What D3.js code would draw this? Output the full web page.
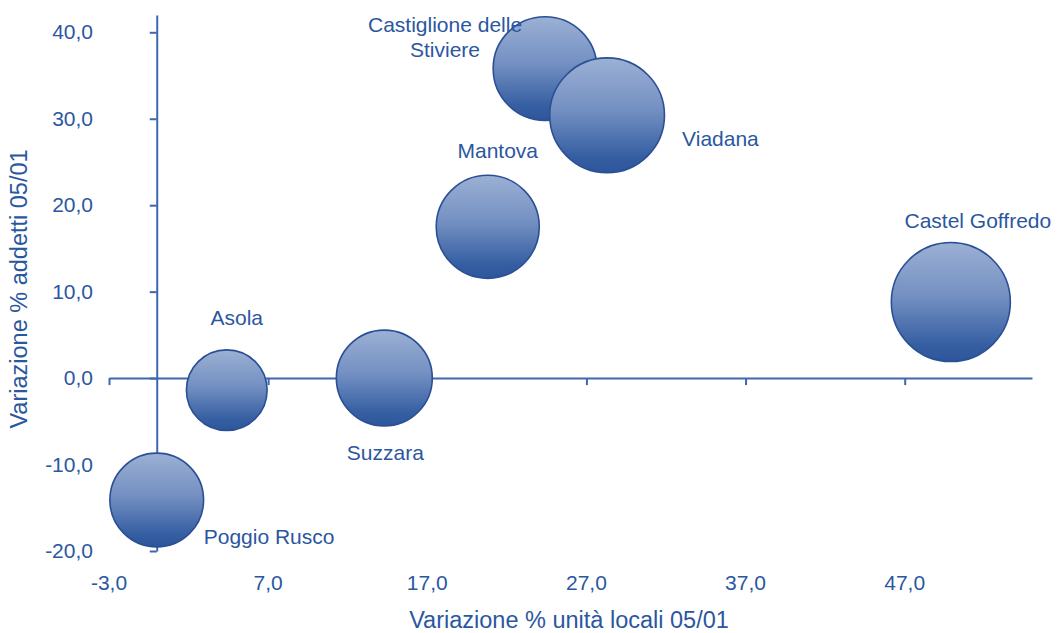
<!DOCTYPE html>
<html>
<head>
<meta charset="utf-8">
<script src="https://cdn.jsdelivr.net/npm/d3@7"></script>
<style>
  body { margin: 0; background: #fff; }
  text { font-family: "Liberation Sans", Arial, sans-serif; fill: #2b57a0; }
</style>
</head>
<body>
<div class="chart"></div>
<script>
// comuni of the province, % changes 2001-2005
const names = ["Poggio Rusco", "Asola", "Suzzara", "Mantova", "Castiglione delle Stiviere", "Viadana", "Castel Goffredo"];
const unitaLocali = [0.0, 4.4, 14.3, 20.8, 24.4, 28.3, 49.9];   // x: variazione % unità locali
const addetti = [-14.1, -1.4, 0.0, 17.5, 35.8, 30.4, 8.8];       // y: variazione % addetti
const bubbleSize = [62, 46, 65, 75, 76, 93, 100];               // relative size
const xTicks = [-3, 7, 17, 27, 37, 47];
const yTicks = [-20, -10, 0, 10, 20, 30, 40];

// label placement relative to the bubble centre [dx, dy, anchor]
const labelPlace = {
  "Poggio Rusco": [47, 44, "start"],
  "Asola": [10, -65, "middle"],
  "Suzzara": [1, 82, "middle"],
  "Mantova": [10, -69, "middle"],
  "Castiglione delle Stiviere": [-100, -37, "middle"],
  "Viadana": [75, 31, "start"],
  "Castel Goffredo": [27, -74, "middle"]
};

const width = 1059, height = 633;
const axisColor = "#3d67b0";

const fmt = d3.formatLocale({ decimal: ",", thousands: ".", grouping: [3], currency: ["", "€"], minus: "-" }).format(".1f");

const x = d3.scaleLinear().domain([-3, 55]).range([109, 1032]);
const y = d3.scaleLinear().domain([-20, 42]).range([551, 15]);
const r = d3.scaleSqrt().domain([0, 100]).range([0, 59.5]);

const svg = d3.select(".chart").append("svg")
  .attr("width", width)
  .attr("height", height);

const defs = svg.append("defs");
const grad = defs.append("linearGradient")
  .attr("id", "bubbleGrad")
  .attr("x1", 0).attr("y1", 0).attr("x2", 0).attr("y2", 1);
grad.append("stop").attr("offset", "0%").attr("stop-color", "#9bb0d4");
grad.append("stop").attr("offset", "45%").attr("stop-color", "#7490c2");
grad.append("stop").attr("offset", "85%").attr("stop-color", "#3760a3");
grad.append("stop").attr("offset", "100%").attr("stop-color", "#2c559b");

// x axis sits on y = 0
const xAxis = svg.append("g")
  .attr("transform", `translate(0,${y(0)})`)
  .call(d3.axisBottom(x).tickValues(xTicks).tickSize(7).tickSizeOuter(0).tickFormat(""));
xAxis.select(".domain").attr("stroke", axisColor).attr("stroke-width", 2);
xAxis.selectAll(".tick line").attr("stroke", axisColor).attr("stroke-width", 2);

// y axis sits on x = 0
const yAxis = svg.append("g")
  .attr("transform", `translate(${x(0)},0)`)
  .call(d3.axisLeft(y).tickValues(yTicks).tickSize(7).tickSizeOuter(0).tickFormat(""));
yAxis.select(".domain").attr("stroke", axisColor).attr("stroke-width", 2);
yAxis.selectAll(".tick line").attr("stroke", axisColor).attr("stroke-width", 2);

// tick labels along the plot edges
svg.append("g")
  .selectAll("text")
  .data(xTicks)
  .join("text")
  .attr("x", (d) => x(d))
  .attr("y", 590)
  .attr("text-anchor", "middle")
  .style("font-size", "21px")
  .text((d) => fmt(d));

svg.append("g")
  .selectAll("text")
  .data(yTicks)
  .join("text")
  .attr("x", 93)
  .attr("y", (d) => y(d) + 7)
  .attr("text-anchor", "end")
  .style("font-size", "21px")
  .text((d) => fmt(d));

// axis titles
svg.append("text")
  .attr("x", 569)
  .attr("y", 628)
  .attr("text-anchor", "middle")
  .style("font-size", "23.5px")
  .text("Variazione % unità locali 05/01");

svg.append("text")
  .attr("transform", `translate(27,289) rotate(-90)`)
  .attr("text-anchor", "middle")
  .style("font-size", "23.5px")
  .text("Variazione % addetti 05/01");

const data = names.map((n, i) => ({ name: n, ux: unitaLocali[i], ad: addetti[i], size: bubbleSize[i] }));

// bubbles
svg.append("g")
  .selectAll("circle")
  .data(data)
  .join("circle")
  .attr("cx", (d) => x(d.ux))
  .attr("cy", (d) => y(d.ad))
  .attr("r", (d) => r(d.size))
  .attr("fill", "url(#bubbleGrad)")
  .attr("stroke", "#2a4f95")
  .attr("stroke-width", 1.6);

// labels
const labels = svg.append("g")
  .selectAll("text")
  .data(data)
  .join("text")
  .attr("x", (d) => x(d.ux) + labelPlace[d.name][0])
  .attr("y", (d) => y(d.ad) + labelPlace[d.name][1])
  .attr("text-anchor", (d) => labelPlace[d.name][2])
  .style("font-size", "21px");

labels.each(function (d) {
  const t = d3.select(this);
  if (d.name == "Castiglione delle Stiviere") {
    const px = x(d.ux) + labelPlace[d.name][0];
    t.append("tspan").attr("x", px).text("Castiglione delle");
    t.append("tspan").attr("x", px).attr("dy", 25).text("Stiviere");
  } else {
    t.text(d.name);
  }
});
</script>
</body>
</html>
